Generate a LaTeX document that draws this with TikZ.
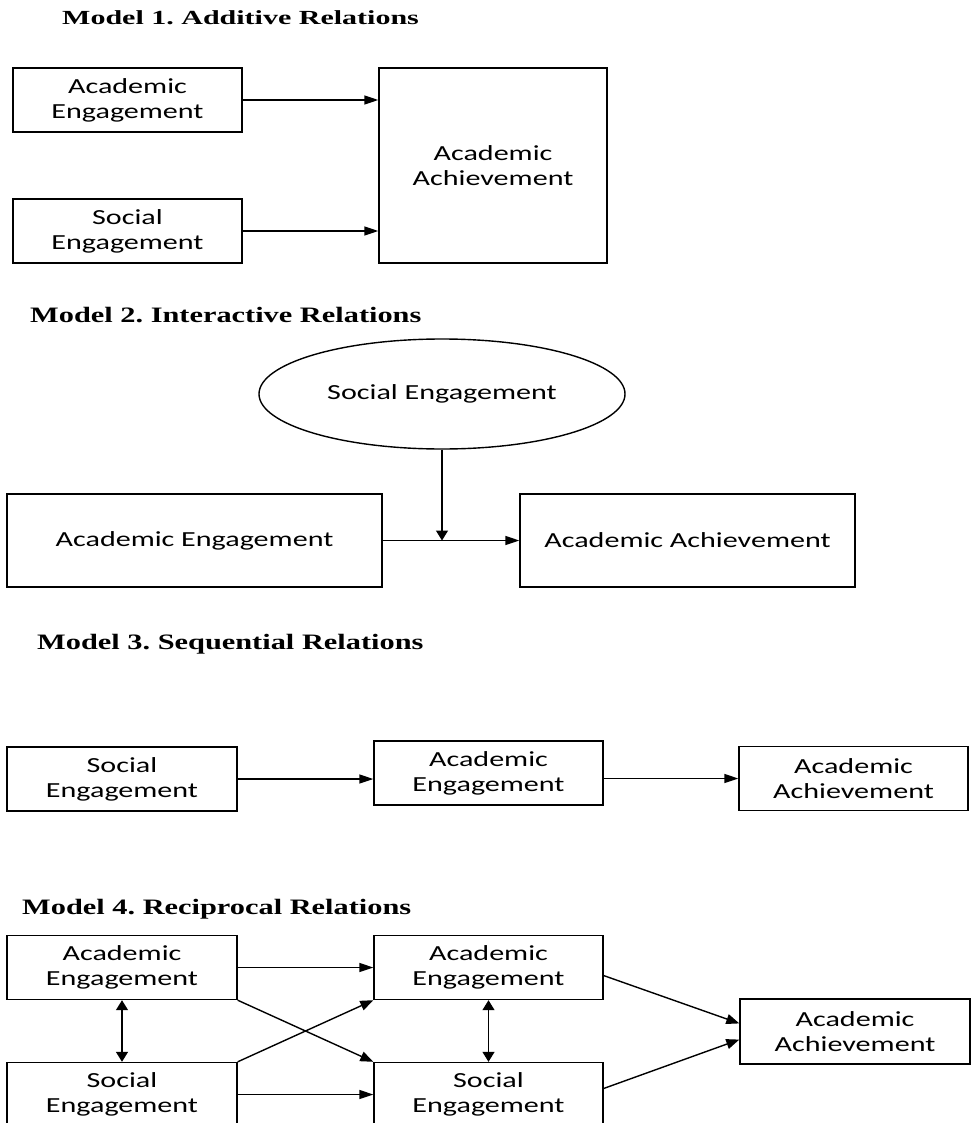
\documentclass[tikz,border=0pt]{standalone}
\usepackage{fontspec}
\usepackage{tikz}
\usetikzlibrary{arrows.meta,shapes.geometric}
\newfontfamily\boxfont[FakeStretch=1.4]{Carlito}
\newfontfamily\headfont[FakeStretch=1.38]{Liberation Serif}
\newfontfamily\headwide[FakeStretch=1.5]{Liberation Serif}
\frenchspacing

\tikzset{
  blk/.style={draw,line width=1.4pt,inner sep=0pt,align=center,
    minimum width=229,minimum height=64,
    font=\boxfont\fontsize{21.5}{25}\selectfont},
  head/.style={anchor=base west,inner sep=0pt,
    font=\headfont\bfseries\fontsize{22}{26}\selectfont},
  harr/.style={line width=1.4pt,-{Triangle[length=14pt,width=9pt]}},
  darr/.style={line width=1.4pt,-{Triangle[length=13pt,width=10pt]}},
  dbl/.style={line width=1.4pt,{Triangle[length=10pt,width=12pt]}-{Triangle[length=10pt,width=12pt]}},
  varr/.style={line width=1.4pt,-{Triangle[length=10pt,width=12pt]}}
}

\begin{document}
\begin{tikzpicture}[x=1pt,y=-1pt]
    \useasboundingbox (0,0) rectangle (970,1123);
    \node[head,font=\headwide\bfseries\fontsize{20}{24}\selectfont] (h1) at (62,25) {Model 1. Additive Relations};
    \node[blk] (ae1) at (127.5,100) {Academic\\Engagement};
    \node[blk] (se1) at (127.5,231) {Social\\Engagement};
    \node[blk,minimum width=228,minimum height=195] (ach1) at (493,165.5) {Academic\\Achievement};
    \draw[harr] (ae1) -- (ae1 -| ach1.west);
    \draw[harr] (se1) -- (se1 -| ach1.west);

    \node[head] (h2) at (30,322) {Model 2. Interactive Relations};
    \node[draw,ellipse,line width=1.4pt,inner sep=0pt,minimum width=366,minimum height=110,
      font=\boxfont\fontsize{21.5}{25}\selectfont] (se2) at (442,394) {Social Engagement};
    \node[blk,minimum width=375,minimum height=93] (ae2) at (194.5,540.5) {Academic Engagement};
    \node[blk,minimum width=335,minimum height=93] (ach2) at (687.5,540.5) {Academic Achievement};
    \coordinate (m2) at (se2.south |- ae2.east);
    \draw[harr] (ae2) -- (ach2);
    \draw[varr] (se2) -- (m2);

    \node[head] (h3) at (37,649) {Model 3. Sequential Relations};
    \node[blk,minimum width=230] (se3) at (122,779) {Social\\Engagement};
    \node[blk] (ae3) at (488.5,773) {Academic\\Engagement};
    \node[blk] (ach3) at (853.5,778.5) {Academic\\Achievement};
    \draw[harr] (se3.east) -- (se3.east -| ae3.west);
    \draw[harr] (ae3.east |- ach3.west) -- (ach3.west);

    \node[head] (h4) at (22,914) {Model 4. Reciprocal Relations};
    \node[blk,minimum width=230] (ae4a) at (122,967.5) {Academic\\Engagement};
    \node[blk,minimum width=230] (se4a) at (122,1094.5) {Social\\Engagement};
    \node[blk] (ae4b) at (488.5,967.5) {Academic\\Engagement};
    \node[blk] (se4b) at (488.5,1094.5) {Social\\Engagement};
    \node[blk,minimum width=230,minimum height=65] (ach4) at (855,1031.5) {Academic\\Achievement};
    \draw[harr] (ae4a) -- (ae4b);
    \draw[harr] (se4a) -- (se4b);
    \draw[darr] (ae4a.south east) -- (se4b.north west);
    \draw[darr] (se4a.north east) -- (ae4b.south west);
    \draw[dbl] (ae4a) -- (se4a);
    \draw[dbl] (ae4b) -- (se4b);
    \draw[darr] (ae4b.-4) -- (ach4.176);
    \draw[darr] (se4b.3) -- (ach4.184);
\end{tikzpicture}
\end{document}
